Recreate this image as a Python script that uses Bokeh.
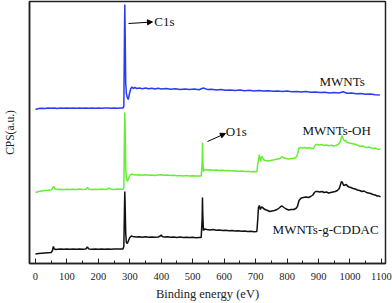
from bokeh.plotting import figure
from bokeh.models import FixedTicker, Arrow, NormalHead, Label, Range1d
from bokeh.embed import file_html
from bokeh.resources import INLINE

# Binding energy (eV), CPS (a.u., offset stacked)
mwnts = [
    (0, 154), (10, 155), (20, 155.3), (30, 155), (40, 155.4), (50, 155.2), (60, 155.5), (70, 155.1),
    (80, 155.4), (90, 155.2), (100, 155.5), (110, 155.3), (120, 155.6), (130, 155.2), (140, 155.4),
    (150, 155.3), (160, 155.6), (170, 155.2), (180, 155.4), (190, 155.3), (200, 155.5), (210, 155.2),
    (220, 155.4), (230, 155.6), (240, 155.3), (250, 155.5), (260, 155.2), (270, 155.4), (278, 155.5),
    (281, 157), (283, 230), (284, 259), (285, 235), (287, 180), (289, 170), (292, 166), (295, 164),
    (299, 170), (303, 175), (307, 176.5), (311, 175), (316, 176), (322, 175), (330, 175.5), (340, 174.8),
    (350, 175.4), (360, 174.7), (370, 175.2), (380, 174.6), (390, 175.3), (400, 174.5), (415, 175),
    (430, 174.3), (445, 174.8), (460, 174.1), (475, 174.6), (490, 174), (505, 174.4), (520, 173.8),
    (534, 175.5), (548, 173.9), (560, 174.2), (575, 173.5), (590, 173.9), (605, 173.2), (620, 173.6),
    (635, 173), (650, 173.4), (665, 172.8), (680, 173.2), (695, 172.6), (710, 173), (725, 172.4),
    (740, 172.8), (755, 172.2), (770, 172.6), (785, 172), (800, 172.4), (815, 171.8), (830, 172.1),
    (845, 171.5), (860, 171.9), (875, 171.2), (890, 171.6), (905, 170.9), (920, 171.3), (935, 170.6),
    (950, 171), (965, 170.5), (978, 171.8), (990, 170.2), (1005, 170.5), (1020, 169.7), (1035, 170),
    (1050, 169.3), (1065, 169.6), (1080, 168.8), (1095, 168.4),
]

mwnts_oh = [
    (0, 71), (10, 72), (20, 72.5), (30, 73), (40, 73.3), (50, 73.8), (54, 75), (57, 77), (62, 74.5),
    (70, 74), (80, 74.3), (90, 73.8), (100, 74.2), (110, 73.9), (120, 74.3), (130, 74), (140, 74.4),
    (150, 73.9), (160, 74.3), (165, 76), (170, 74.2), (180, 73.9), (190, 74.3), (200, 74), (210, 74.4),
    (220, 74.1), (230, 74.5), (235, 75.5), (240, 74.3), (250, 74.1), (260, 74.4), (270, 74.2), (278, 74.3),
    (281, 76), (283, 130), (284, 151), (285, 140), (287, 95), (289, 86), (292, 82), (296, 85), (300, 88),
    (305, 89.5), (310, 89), (320, 88.5), (330, 88.8), (340, 88.3), (350, 88.7), (360, 88.2), (370, 88.6),
    (380, 88.1), (390, 88.5), (400, 88.8), (410, 88.2), (420, 88.4), (430, 87.9), (440, 88.3), (450, 87.8),
    (460, 88.1), (470, 87.6), (480, 87.9), (490, 87.5), (500, 87.8), (510, 87.4), (520, 87.6), (527, 87.5),
    (530, 100), (531, 121), (532, 105), (534, 92), (538, 94), (545, 93.5), (555, 93.8), (565, 93.2),
    (575, 93.5), (585, 92.9), (595, 93.2), (605, 92.7), (615, 93), (625, 92.5), (635, 92.8), (645, 92.3),
    (655, 92.5), (665, 92), (675, 92.3), (685, 91.8), (695, 92), (704, 91.7), (707, 100), (710, 105),
    (712, 109), (714, 104), (716, 102), (718, 106), (721, 107), (725, 104), (730, 103), (738, 102.5),
    (747, 103), (755, 103.5), (762, 104), (770, 104.5), (778, 105), (784, 107), (790, 105.5), (797, 105),
    (805, 104.5), (813, 105), (821, 105), (828, 106), (833, 109), (837, 115), (843, 116), (850, 115.5),
    (858, 116), (865, 115.3), (872, 115.8), (879, 115), (884, 115), (888, 117.5), (892, 119), (896, 119),
    (903, 118.5), (910, 119), (918, 118), (926, 118.5), (934, 117.8), (941, 118.3), (948, 117.5), (955, 118),
    (962, 119), (968, 121), (972, 125), (975, 128), (978, 125), (982, 122.5), (986, 123), (991, 121),
    (998, 120.5), (1005, 120), (1012, 119.5), (1019, 119), (1026, 118), (1033, 117), (1040, 117.5),
    (1047, 116.5), (1054, 116), (1061, 116.5), (1068, 115.5), (1075, 115), (1082, 115.5), (1089, 114),
    (1097, 114.5),
]

mwnts_cddac = [
    (0, 9.5), (10, 10), (20, 10.3), (30, 10.6), (40, 10.8), (50, 11), (54, 13), (57, 17), (60, 14.5),
    (65, 14), (70, 14.2), (80, 14.5), (90, 14.2), (100, 14.6), (110, 14.3), (120, 14.5), (130, 14.2),
    (140, 14.6), (150, 14.3), (160, 14.5), (165, 16.5), (170, 14.4), (180, 14.2), (190, 14.5), (200, 14.3),
    (210, 14.6), (220, 14.2), (230, 14.5), (240, 14.3), (250, 14.6), (260, 14.4), (270, 14.5), (278, 14.4),
    (281, 17), (283, 55), (284, 72), (285, 60), (287, 30), (289, 21), (292, 20), (296, 23), (300, 26),
    (305, 27.5), (310, 27), (320, 26.5), (330, 26.8), (340, 26.3), (350, 26.7), (360, 26.2), (370, 26.6),
    (380, 26.3), (390, 26.5), (397, 27.5), (400, 28.5), (403, 27), (410, 26.4), (420, 26.7), (430, 26.2),
    (440, 26.5), (450, 26.1), (460, 26.4), (470, 26), (480, 26.3), (490, 25.9), (500, 26.2), (510, 25.8),
    (520, 26), (527, 26), (530, 45), (531, 66), (532, 50), (534, 33), (538, 34.5), (545, 34), (555, 33.6),
    (565, 33.9), (575, 33.3), (585, 33.6), (595, 33), (605, 33.2), (615, 32.7), (625, 32.9), (635, 32.4),
    (645, 32.7), (655, 32.2), (665, 32.4), (675, 32), (685, 32.2), (695, 31.8), (704, 32), (707, 45),
    (709, 56), (712, 58), (715, 54), (718, 56), (721, 56.5), (725, 55), (730, 54), (738, 53), (745, 52),
    (752, 52.5), (760, 53), (768, 54), (775, 55.5), (780, 57), (784, 57.5), (790, 56), (797, 54.5),
    (805, 53.5), (813, 54), (821, 54), (828, 55), (833, 57), (838, 63), (845, 65.5), (852, 66), (860, 66.5),
    (868, 66), (875, 67), (882, 68.5), (887, 71), (891, 72), (897, 72), (904, 71.5), (911, 72), (918, 71),
    (925, 71.5), (932, 70.5), (939, 71), (946, 71.5), (953, 72), (960, 73), (966, 75), (970, 79), (973, 82),
    (976, 81), (980, 78), (984, 78.5), (988, 79), (992, 77.5), (997, 76.5), (1003, 76), (1010, 75),
    (1017, 74.5), (1024, 73.5), (1031, 73), (1038, 72), (1045, 72.5), (1052, 71), (1059, 70.5), (1066, 70),
    (1073, 69), (1080, 68.5), (1087, 67.5), (1093, 67.5), (1097, 66.5),
]

x_ticks = [0, 100, 200, 300, 400, 500, 600, 700, 800, 900, 1000, 1100]
x_minor = [50, 150, 250, 350, 450, 550, 650, 750, 850, 950, 1050]

SERIF = "'Liberation Serif', 'Times New Roman', serif"

p = figure(width=392, height=303, output_backend="svg", toolbar_location=None,
           x_range=Range1d(-19, 1113), y_range=Range1d(0, 262),
           min_border_left=29, min_border_right=7, min_border_top=1, min_border_bottom=0)
p.grid.visible = False
p.outline_line_color = "#222222"
p.outline_line_width = 1.5
p.background_fill_color = "white"
p.border_fill_color = "white"

for data, color in [(mwnts_cddac, "#111111"), (mwnts_oh, "#66ee33"), (mwnts, "#2a3cf0")]:
    xs = [d[0] for d in data]
    ys = [d[1] for d in data]
    p.line(xs, ys, line_color=color, line_width=1.5)

xa = p.xaxis[0]
xa.ticker = FixedTicker(ticks=x_ticks, minor_ticks=x_minor)
xa.major_tick_in = 5
xa.major_tick_out = 0
xa.minor_tick_in = 3
xa.minor_tick_out = 0
xa.axis_line_width = 1.5
xa.axis_line_color = "#222222"
xa.major_tick_line_color = "#222222"
xa.minor_tick_line_color = "#222222"
xa.major_label_text_font = SERIF
xa.major_label_text_font_size = "10.5px"
xa.major_label_text_color = "#222222"
xa.major_label_standoff = 9
xa.axis_label = "Binding energy (eV)"
xa.axis_label_text_font = SERIF
xa.axis_label_text_font_size = "12.5px"
xa.axis_label_text_font_style = "normal"
xa.axis_label_text_color = "#222222"
xa.axis_label_standoff = 4

ya = p.yaxis[0]
ya.ticker = FixedTicker(ticks=[])
ya.axis_line_width = 1.5
ya.axis_line_color = "#222222"
ya.axis_label = "CPS(a.u.)"
ya.axis_label_text_font = SERIF
ya.axis_label_text_font_size = "11.5px"
ya.axis_label_text_font_style = "normal"
ya.axis_label_text_color = "#222222"
ya.axis_label_standoff = 14

def add_label(x, y, text):
    p.add_layout(Label(x=x, y=y, text=text, text_font=SERIF, text_font_size="13px",
                       text_baseline="middle", text_align="left", text_color="#111111"))

p.add_layout(Arrow(end=NormalHead(size=5, fill_color="black", line_color="black"),
                   x_start=296, y_start=240, x_end=372, y_end=241.5, line_width=1, line_color="black"))
add_label(378, 242, "C1s")
p.add_layout(Arrow(end=NormalHead(size=5, fill_color="black", line_color="black"),
                   x_start=547, y_start=122, x_end=604, y_end=130, line_width=1, line_color="black"))
add_label(605, 132, "O1s")
add_label(903, 182, "MWNTs")
add_label(849, 133, "MWNTs-OH")
add_label(754, 34, "MWNTs-g-CDDAC")

open("out.html", "w").write(file_html(p, INLINE))
